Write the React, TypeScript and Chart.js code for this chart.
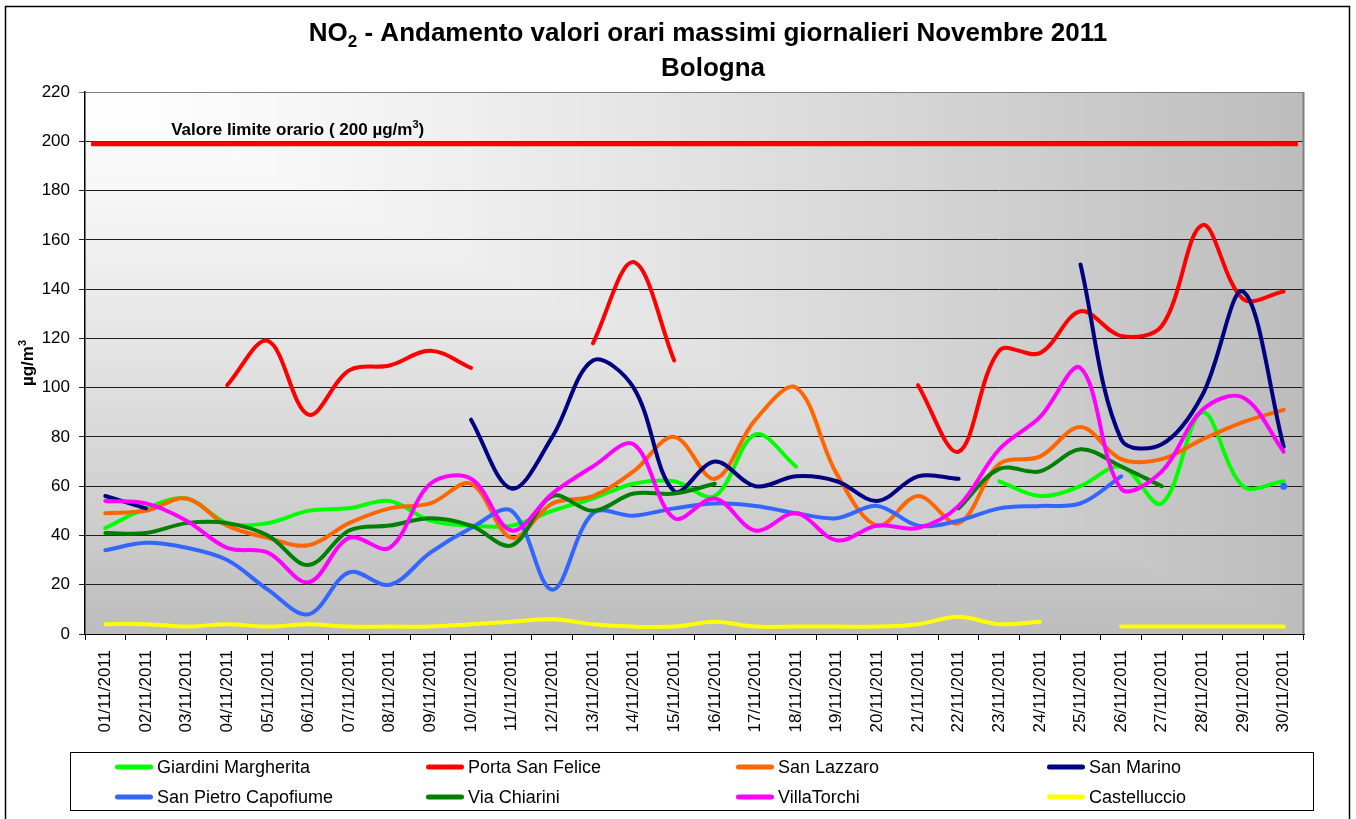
import React, { useEffect, useRef } from 'react';
import { Chart, registerables } from 'chart.js';

Chart.register(...registerables);

const FONT = '"Liberation Sans", Arial, Helvetica, sans-serif';

// ---- data ----
const days = [
  '01/11/2011', '02/11/2011', '03/11/2011', '04/11/2011', '05/11/2011', '06/11/2011',
  '07/11/2011', '08/11/2011', '09/11/2011', '10/11/2011', '11/11/2011', '12/11/2011',
  '13/11/2011', '14/11/2011', '15/11/2011', '16/11/2011', '17/11/2011', '18/11/2011',
  '19/11/2011', '20/11/2011', '21/11/2011', '22/11/2011', '23/11/2011', '24/11/2011',
  '25/11/2011', '26/11/2011', '27/11/2011', '28/11/2011', '29/11/2011', '30/11/2011',
];

const giardiniMargherita = [43, 51, 55, 45, 45, 50, 51, 54, 46, 44, 44, 50, 55, 61, 62, 56, 81, 68, null, null, null, null, 62, 56, 60, 68, 53, 90, 60, 62];
const portaSanFelice = [null, null, null, 101, 119, 89, 107, 109, 115, 108, null, null, 118, 151, 111, null, null, null, null, null, 101, 74, 115, 114, 131, 121, 125, 166, 136, 139];
const sanLazzaro = [49, 50, 55, 44, 39, 36, 45, 51, 53, 61, 39, 53, 56, 66, 80, 63, 87, 100, 65, 44, 56, 45, 69, 72, 84, 71, 71, 79, 86, 91];
const sanMarino = [56, 51, null, null, null, null, null, null, null, 87, 59, 80, 111, 100, 58, 70, 60, 64, 62, 54, 64, 63, null, null, 150, 79, 77, 97, 139, 76];
const sanPietroCapofiume = [34, 37, 35, 30, 18, 8, 25, 20, 33, 43, 50, 18, 49, 48, 51, 53, 52, 49, 47, 52, 44, 46, 51, 52, 53, 64, null, null, null, 60];
const viaChiarini = [41, 41, 45, 45, 40, 28, 42, 44, 47, 44, 36, 56, 50, 57, 57, 61, null, null, null, null, null, 51, 67, 66, 75, 68, 60, null, null, null];
const villaTorchi = [54, 53, 46, 35, 33, 21, 39, 35, 61, 63, 42, 57, 68, 77, 47, 55, 42, 49, 38, 44, 43, 52, 75, 88, 108, 59, 66, 91, 96, 74];
const castelluccio = [4, 4, 3, 4, 3, 4, 3, 3, 3, 4, 5, 6, 4, 3, 3, 5, 3, 3, 3, 3, 4, 7, 4, 5, null, 3, 3, 3, 3, 3];

const seriesNames = ['Giardini Margherita', 'Porta San Felice', 'San Lazzaro', 'San Marino', 'San Pietro Capofiume', 'Via Chiarini', 'VillaTorchi', 'Castelluccio'];
const seriesValues = [giardiniMargherita, portaSanFelice, sanLazzaro, sanMarino, sanPietroCapofiume, viaChiarini, villaTorchi, castelluccio];
const seriesColors = ['#00FF00', '#FF0000', '#FF6600', '#000080', '#3366FF', '#008000', '#FF00FF', '#FFFF00'];

const limitValue = 199;
const limitSpan = [0.15, 29.85];
const limitLabel = 'Valore limite orario ( 200 µg/m';

const yMin = 0;
const yMax = 220;
const yStep = 20;

const titleMain = ' - Andamento valori orari massimi giornalieri Novembre 2011';
const titleSub = 'Bologna';

// ---- layout constants ----
const W = 1356;
const H = 819;
const PLOT_LEFT = 85;
const PLOT_RIGHT = 1304;
const PLOT_TOP = 92;
const PLOT_BOTTOM = 634;

const backgroundPlugin = {
  id: 'bgGradient',
  beforeDraw(chart: any) {
    const { ctx, chartArea } = chart;
    const { left, top, right, bottom } = chartArea;
    ctx.save();
    ctx.fillStyle = '#ffffff';
    ctx.fillRect(0, 0, chart.width, chart.height);
    const w = right - left;
    const h = bottom - top;
    const N = 140;
    for (let i = N; i >= 1; i--) {
      const t = i / N;
      const c = Math.round(255 - 66 * Math.pow(t, 1.2));
      ctx.fillStyle = `rgb(${c},${c},${c})`;
      ctx.fillRect(left, top, w * t, h * t);
    }
    ctx.restore();
  },
};

function drawSuper(ctx: CanvasRenderingContext2D, x: number, y: number, base: string, sup: string, baseFont: string, supFont: string, supRise: number) {
  ctx.font = baseFont;
  ctx.fillText(base, x, y);
  const wb = ctx.measureText(base).width;
  ctx.font = supFont;
  ctx.fillText(sup, x + wb, y - supRise);
  return wb + ctx.measureText(sup).width;
}

const decorPlugin = {
  id: 'decor',
  afterDraw(chart: any) {
    const { ctx, chartArea } = chart;
    const yScale = chart.scales.y;
    const xl = chart.scales.xl;
    ctx.save();
    ctx.fillStyle = '#000';
    ctx.textBaseline = 'alphabetic';
    ctx.textAlign = 'left';

    // plot right border
    ctx.strokeStyle = '#808080';
    ctx.lineWidth = 2;
    ctx.beginPath();
    ctx.moveTo(chartArea.right - 0.5, chartArea.top);
    ctx.lineTo(chartArea.right - 0.5, chartArea.bottom);
    ctx.stroke();

    // title line 1 with subscript
    const bigFont = `bold 26px ${FONT}`;
    const subFont = `bold 17px ${FONT}`;
    ctx.font = bigFont;
    const wNO = ctx.measureText('NO').width;
    const wRest = ctx.measureText(titleMain).width;
    ctx.font = subFont;
    const w2 = ctx.measureText('2').width;
    const total = wNO + w2 + wRest;
    let tx = 708 - total / 2;
    ctx.font = bigFont;
    ctx.fillText('NO', tx, 41);
    ctx.font = subFont;
    ctx.fillText('2', tx + wNO, 47);
    ctx.font = bigFont;
    ctx.fillText(titleMain, tx + wNO + w2, 41);
    ctx.textAlign = 'center';
    ctx.fillText(titleSub, 713, 76);
    ctx.textAlign = 'left';

    // y-axis title
    ctx.save();
    ctx.translate(27, 363);
    ctx.rotate(-Math.PI / 2);
    ctx.font = `bold 17px ${FONT}`;
    const wyb = ctx.measureText('µg/m').width;
    ctx.font = `bold 11px ${FONT}`;
    const wys = ctx.measureText('3').width;
    drawSuper(ctx, -(wyb + wys) / 2, 6, 'µg/m', '3', `bold 17px ${FONT}`, `bold 11px ${FONT}`, 7);
    ctx.restore();

    // limit label
    const lx = xl.getPixelForValue(2.12);
    const ly = yScale.getPixelForValue(limitValue) - 9;
    const wl = drawSuper(ctx, lx, ly, limitLabel, '3', `bold 17px ${FONT}`, `bold 11px ${FONT}`, 7);
    ctx.font = `bold 17px ${FONT}`;
    ctx.fillText(')', lx + wl, ly);

    // legend
    ctx.strokeStyle = '#000';
    ctx.lineWidth = 1;
    ctx.fillStyle = '#fff';
    ctx.fillRect(70.5, 752.5, 1243, 58);
    ctx.strokeRect(70.5, 752.5, 1243, 58);
    const cols = [115, 426, 736, 1047];
    const rows = [767, 797];
    ctx.font = `18px ${FONT}`;
    ctx.textBaseline = 'middle';
    seriesNames.forEach((name, i) => {
      const cx = cols[i % 4];
      const cy = rows[Math.floor(i / 4)];
      ctx.strokeStyle = seriesColors[i];
      ctx.lineWidth = 5;
      ctx.lineCap = 'round';
      ctx.beginPath();
      ctx.moveTo(cx + 2.5, cy);
      ctx.lineTo(cx + 35.5, cy);
      ctx.stroke();
      ctx.fillStyle = '#000';
      ctx.fillText(name, cx + 42, cy + 1);
    });

    // outer border
    ctx.strokeStyle = '#000';
    ctx.lineWidth = 1.5;
    ctx.lineCap = 'butt';
    ctx.strokeRect(5.5, 6.5, 1344, 830);
    ctx.restore();
  },
};

function isolatedRadius(ctx: any) {
  const d = ctx.dataset.data as (number | null)[];
  const i = ctx.dataIndex;
  if (!Array.isArray(d) || d[i] == null) return 0;
  return d[i - 1] == null && d[i + 1] == null ? 3.5 : 0;
}

export default function App() {
  const canvasRef = useRef<HTMLCanvasElement | null>(null);

  useEffect(() => {
    document.body.style.margin = '0';
    const canvas = canvasRef.current;
    if (!canvas) return;

    const n = seriesNames.length;
    const datasets: any[] = seriesNames.map((name, i) => ({
      label: name,
      data: seriesValues[i],
      xAxisID: 'x',
      borderColor: seriesColors[i],
      backgroundColor: seriesColors[i],
      borderWidth: 4,
      borderCapStyle: 'round',
      borderJoinStyle: 'round',
      tension: 0.35,
      spanGaps: false,
      fill: false,
      pointRadius: isolatedRadius,
      pointHoverRadius: 0,
      pointBorderWidth: 0,
      order: n - i,
    }));
    datasets.push({
      label: 'Valore limite orario',
      data: [
        { x: limitSpan[0], y: limitValue },
        { x: limitSpan[1], y: limitValue },
      ],
      xAxisID: 'xl',
      borderColor: '#FF0000',
      backgroundColor: '#FF0000',
      borderWidth: 5,
      tension: 0,
      pointRadius: 0,
      fill: false,
      order: n + 1,
    });

    const chart = new Chart(canvas, {
      type: 'line',
      data: { labels: days, datasets },
      options: {
        responsive: false,
        animation: false,
        devicePixelRatio: 1,
        layout: {
          padding: { left: 0, top: PLOT_TOP, right: W - PLOT_RIGHT, bottom: 0 },
        },
        plugins: {
          legend: { display: false },
          title: { display: false },
          tooltip: { enabled: false },
        },
        events: [],
        scales: {
          x: {
            type: 'category',
            offset: true,
            position: 'bottom',
            afterFit(scale: any) {
              scale.height = H - PLOT_BOTTOM;
            },
            grid: {
              offset: true,
              drawOnChartArea: false,
              drawTicks: true,
              tickLength: 6,
              color: '#000',
              lineWidth: 1,
            },
            border: { display: true, color: '#000', width: 1 },
            ticks: {
              autoSkip: false,
              maxRotation: 90,
              minRotation: 90,
              padding: 10,
              color: '#000',
              font: { family: FONT, size: 17 },
            },
          },
          xl: {
            type: 'linear',
            display: false,
            min: 0,
            max: days.length,
            position: 'bottom',
          },
          y: {
            type: 'linear',
            min: yMin,
            max: yMax,
            position: 'left',
            afterFit(scale: any) {
              scale.width = PLOT_LEFT;
            },
            grid: {
              drawOnChartArea: true,
              drawTicks: true,
              tickLength: 6,
              color: (c: any) => (c.tick && c.tick.value === yMax ? '#808080' : '#1e1e1e'),
              lineWidth: 1,
            },
            border: { display: true, color: '#000', width: 1.5 },
            ticks: {
              stepSize: yStep,
              padding: 9,
              color: '#000',
              font: { family: FONT, size: 17 },
            },
          },
        },
      },
      plugins: [backgroundPlugin, decorPlugin],
    });

    return () => {
      chart.destroy();
    };
  }, []);

  return (
    <div style={{ width: W, height: H, position: 'relative', overflow: 'hidden', background: '#fff' }}>
      <canvas ref={canvasRef} width={W} height={H} style={{ display: 'block', width: W, height: H }} />
    </div>
  );
}
